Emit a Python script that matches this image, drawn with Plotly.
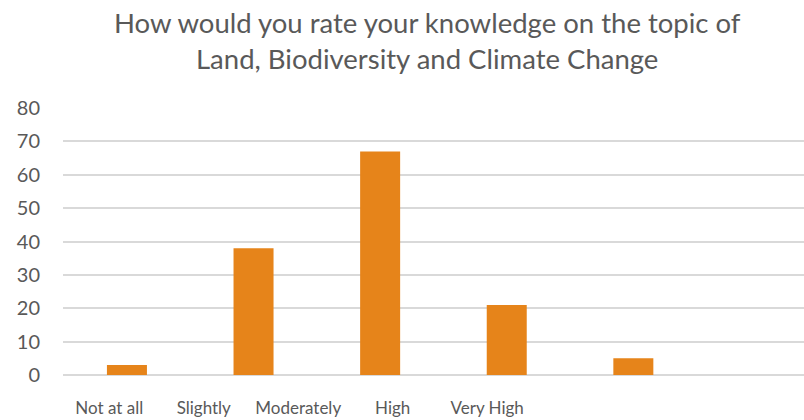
import plotly.graph_objects as go

categories = ["Not at all", "Slightly", "Moderately", "High", "Very High"]
values = [3, 38, 67, 21, 5]
y_ticks = [0, 10, 20, 30, 40, 50, 60, 70, 80]
title_text = "How would you rate your knowledge on the topic of<br>Land, Biodiversity and Climate Change"

BAR = "#E6841A"
TEXT = "#595959"
GRID = "#D9D9D9"
FONT = "Lato, Open Sans, sans-serif"

idx = list(range(len(categories)))

fig = go.Figure()
fig.add_trace(go.Bar(x=idx, y=values, marker=dict(color=BAR, line=dict(width=0)),
                     width=0.316, hoverinfo="skip"))
fig.add_trace(go.Scatter(x=idx, y=values, xaxis="x2", mode="markers",
                         marker=dict(opacity=0), hoverinfo="skip", showlegend=False))

fig.update_layout(
    width=804, height=420,
    margin=dict(l=63, r=0, t=108, b=45),
    paper_bgcolor="white", plot_bgcolor="white",
    showlegend=False,
    font=dict(family=FONT, color=TEXT, size=20),
    title=dict(text=title_text, x=0.4915, xref="paper", xanchor="center",
               y=0.922, yref="container", yanchor="top",
               font=dict(family=FONT, size=27.5, color=TEXT)),
    xaxis=dict(range=[-0.505, 5.348], showticklabels=False, showgrid=False,
               zeroline=False, showline=False, ticks="", tickmode="array", tickvals=idx),
    xaxis2=dict(overlaying="x", side="bottom", anchor="y", range=[-0.49, 7.354],
                tickmode="array", tickvals=idx, ticktext=categories,
                showgrid=False, zeroline=False, showline=False, ticks="",
                ticklabelstandoff=21, tickfont=dict(family=FONT, size=17, color=TEXT)),
    yaxis=dict(range=[0, 80], tickmode="array", tickvals=y_ticks,
               showgrid=True, gridcolor=GRID, gridwidth=1.5,
               zeroline=True, zerolinecolor=GRID, zerolinewidth=1.5,
               showline=False, ticks="", ticklabelstandoff=22,
               tickfont=dict(family=FONT, size=20, color=TEXT)),
)

fig.write_html("out.html", config={"displayModeBar": False},
               post_script="document.body.style.margin='0';document.body.style.overflow='hidden';")
